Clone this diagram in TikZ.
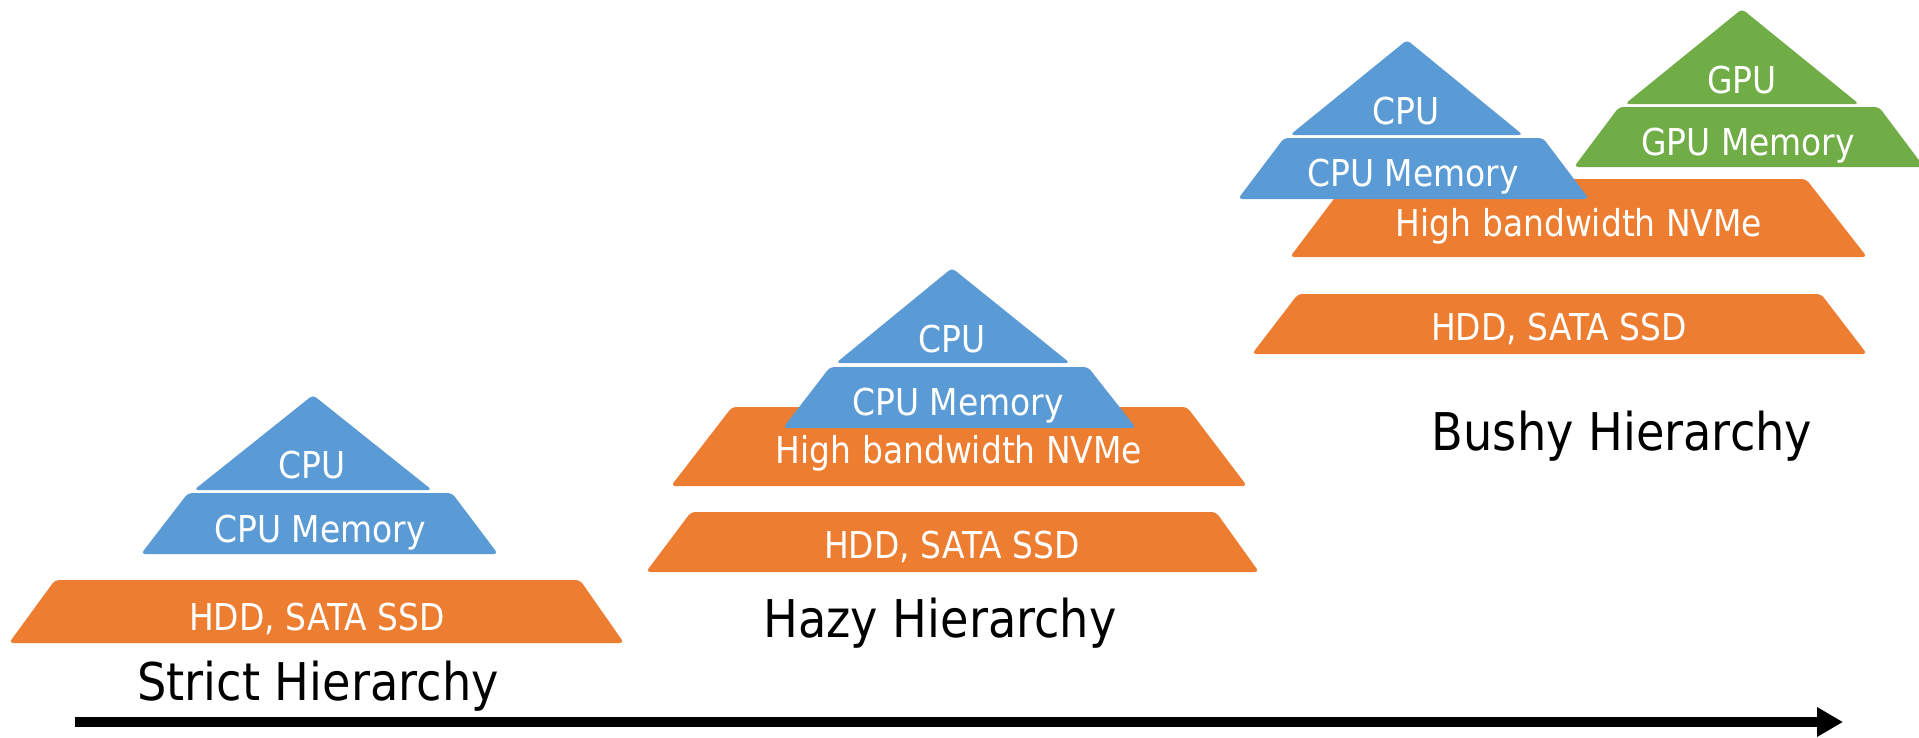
\documentclass[tikz,border=0pt]{standalone}
\usepackage{fontspec}
\setmainfont{DejaVu Sans}[FakeStretch=0.89]
\usetikzlibrary{arrows.meta}
\definecolor{cpublue}{HTML}{5B9BD5}
\definecolor{storeorange}{HTML}{ED7D31}
\definecolor{gpugreen}{HTML}{70AD47}
\tikzset{
  blueshape/.style={fill=cpublue, draw=none, rounded corners=4pt},
  orangeshape/.style={fill=storeorange, draw=none, rounded corners=4pt},
  greenshape/.style={fill=gpugreen, draw=none, rounded corners=4pt},
  lbl/.style={text=white, anchor=base, inner sep=0pt, font=\fontsize{37}{40}\selectfont},
  title/.style={text=black, anchor=base, inner sep=0pt, font=\fontsize{52}{56}\selectfont},
}
\begin{document}
\begin{tikzpicture}[x=1pt,y=-1pt]
\useasboundingbox (0,0) rectangle (1919,737);
\clip (0,0) rectangle (1919,737);
% ---------- Strict hierarchy ----------
\fill[orangeshape] (9,643) -- (55,580) -- (580,580) -- (624,643) -- cycle;
\fill[blueshape] (141,554) -- (188,493) -- (452,493) -- (498,554) -- cycle;
\fill[blueshape] (194,490) -- (313,395) -- (432,490) -- cycle;
\node[lbl] (s-cpu) at (312,478) {CPU};
\node[lbl] (s-mem) at (320,542) {CPU Memory};
\node[lbl] (s-hdd) at (317,630) {HDD, SATA SSD};
\node[title] (s-title) at (318,700) {Strict Hierarchy};
% ---------- Hazy hierarchy ----------
\fill[orangeshape] (646,572) -- (691,512) -- (1216,512) -- (1259,572) -- cycle;
\fill[orangeshape] (671,486) -- (732,407) -- (1187,407) -- (1247,486) -- cycle;
\fill[blueshape] (783,428) -- (830,367) -- (1088,367) -- (1136,428) -- cycle;
\fill[blueshape] (836,363) -- (952,268) -- (1070,363) -- cycle;
\node[lbl] (h-cpu) at (952,352) {CPU};
\node[lbl] (h-mem) at (958,415) {CPU Memory};
\node[lbl] (h-nvme) at (959,463) {High bandwidth NVMe};
\node[lbl] (h-hdd) at (952,558) {HDD, SATA SSD};
\node[title] (h-title) at (940,637) {Hazy Hierarchy};
% ---------- Bushy hierarchy ----------
\fill[orangeshape] (1252,354) -- (1298,294) -- (1821,294) -- (1867,354) -- cycle;
\fill[orangeshape] (1290,257) -- (1349,179) -- (1806,179) -- (1867,257) -- cycle;
\fill[blueshape] (1238,199) -- (1284,138) -- (1543,138) -- (1589,199) -- cycle;
\fill[blueshape] (1290,135) -- (1407,40) -- (1523,135) -- cycle;
\fill[greenshape] (1574,167) -- (1619,107) -- (1879,107) -- (1924,167) -- cycle;
\fill[greenshape] (1625,104) -- (1742,9) -- (1859,104) -- cycle;
\node[lbl] (b-cpu) at (1406,124) {CPU};
\node[lbl] (b-mem) at (1413,186) {CPU Memory};
\node[lbl] (b-gpu) at (1742,93) {GPU};
\node[lbl] (b-gmem) at (1748,155) {GPU Memory};
\node[lbl] (b-nvme) at (1579,236) {High bandwidth NVMe};
\node[lbl] (b-hdd) at (1559,340) {HDD, SATA SSD};
\node[title] (b-title) at (1622,450) {Bushy Hierarchy};
% ---------- axis arrow ----------
\coordinate (axstart) at (75,722);
\coordinate (axend) at (1843,722);
\draw[line width=10pt, -{Triangle[length=26pt,width=28pt]}] (axstart) -- (axend);
\end{tikzpicture}
\end{document}
